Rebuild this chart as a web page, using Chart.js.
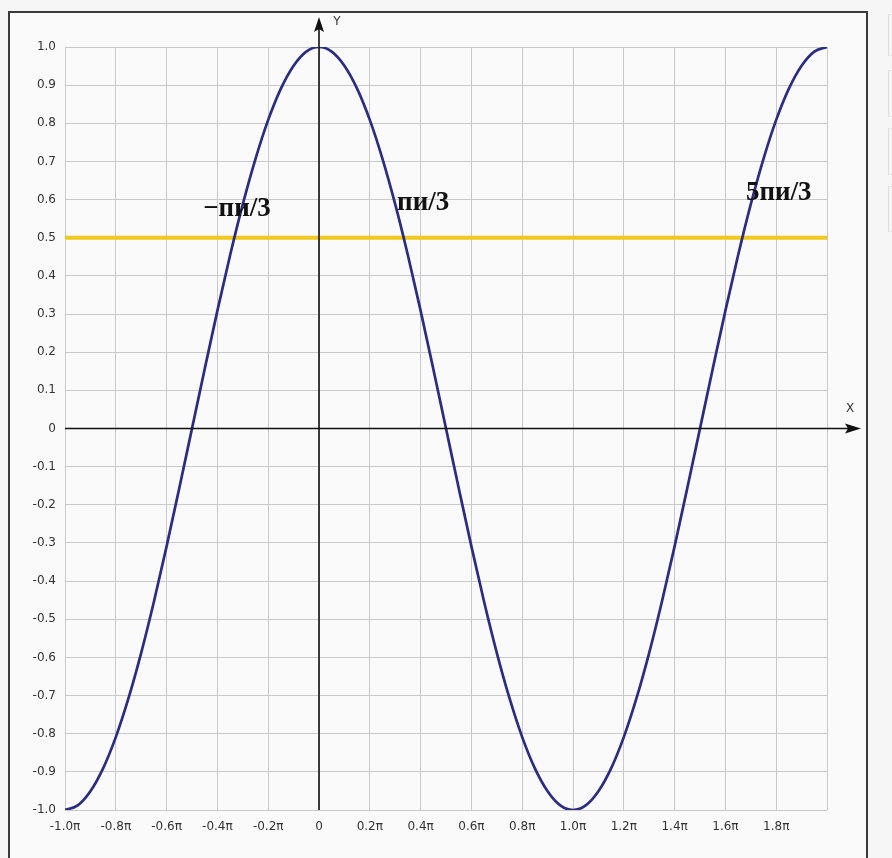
<!DOCTYPE html>
<html>
<head>
<meta charset="utf-8">
<script src="https://cdn.jsdelivr.net/npm/chart.js@4"></script>
<style>
  html, body { margin: 0; padding: 0; background: #f6f6f6; }
  #wrap { position: absolute; left: 0; top: 0; width: 892px; height: 858px; }
  .side { position: absolute; left: 888px; width: 6px; border-left: 1px solid #dcdcdc; border-top: 1px solid #e6e6e6; border-bottom: 1px solid #e6e6e6; }
</style>
</head>
<body>
<div id="wrap"><canvas id="c" width="892" height="858"></canvas></div>
<div class="side" style="top:14px;height:40px"></div>
<div class="side" style="top:70px;height:45px"></div>
<div class="side" style="top:128px;height:45px"></div>
<div class="side" style="top:186px;height:44px"></div>
<script>
// x positions in units of π
const xValues = [
  -1.00,-0.95,-0.90,-0.85,-0.80,-0.75,-0.70,-0.65,-0.60,-0.55,
  -0.50,-0.45,-0.40,-0.35,-0.30,-0.25,-0.20,-0.15,-0.10,-0.05,
   0.00, 0.05, 0.10, 0.15, 0.20, 0.25, 0.30, 0.35, 0.40, 0.45,
   0.50, 0.55, 0.60, 0.65, 0.70, 0.75, 0.80, 0.85, 0.90, 0.95,
   1.00, 1.05, 1.10, 1.15, 1.20, 1.25, 1.30, 1.35, 1.40, 1.45,
   1.50, 1.55, 1.60, 1.65, 1.70, 1.75, 1.80, 1.85, 1.90, 1.95, 2.00
];
const curveValues = [
  -1.000,-0.988,-0.951,-0.891,-0.809,-0.707,-0.588,-0.454,-0.309,-0.156,
   0.000, 0.156, 0.309, 0.454, 0.588, 0.707, 0.809, 0.891, 0.951, 0.988,
   1.000, 0.988, 0.951, 0.891, 0.809, 0.707, 0.588, 0.454, 0.309, 0.156,
   0.000,-0.156,-0.309,-0.454,-0.588,-0.707,-0.809,-0.891,-0.951,-0.988,
  -1.000,-0.988,-0.951,-0.891,-0.809,-0.707,-0.588,-0.454,-0.309,-0.156,
   0.000, 0.156, 0.309, 0.454, 0.588, 0.707, 0.809, 0.891, 0.951, 0.988, 1.000
];
const levelX = [-1.0, 2.0];
const levelY = [0.5, 0.5];

const xTickValues = [-1.0,-0.8,-0.6,-0.4,-0.2,0,0.2,0.4,0.6,0.8,1.0,1.2,1.4,1.6,1.8,2.0];
const xTickLabels = ['-1.0π','-0.8π','-0.6π','-0.4π','-0.2π','0','0.2π','0.4π','0.6π','0.8π','1.0π','1.2π','1.4π','1.6π','1.8π',''];
const yTickValues = [-1.0,-0.9,-0.8,-0.7,-0.6,-0.5,-0.4,-0.3,-0.2,-0.1,0,0.1,0.2,0.3,0.4,0.5,0.6,0.7,0.8,0.9,1.0];
const yTickLabels = ['-1.0','-0.9','-0.8','-0.7','-0.6','-0.5','-0.4','-0.3','-0.2','-0.1','0','0.1','0.2','0.3','0.4','0.5','0.6','0.7','0.8','0.9','1.0'];

const noteTexts = ['−пи/3', 'пи/3', '5пи/3'];
const noteX = [-0.323, 0.41, 1.81];
const noteY = [0.576, 0.592, 0.617];

const axisLabelX = 'X';
const axisLabelY = 'Y';

const framePlugin = {
  id: 'frame',
  beforeDraw(chart) {
    const ctx = chart.ctx;
    ctx.save();
    ctx.fillStyle = '#fafafa';
    ctx.fillRect(9, 12, 858, 850);
    ctx.strokeStyle = '#3a3a3a';
    ctx.lineWidth = 2;
    ctx.strokeRect(9, 12, 858, 860);
    ctx.restore();
  }
};

const axesPlugin = {
  id: 'axesArrows',
  afterDatasetsDraw(chart) {
    const ctx = chart.ctx;
    const xs = chart.scales.x, ys = chart.scales.y;
    const x0 = xs.getPixelForValue(0), y0 = ys.getPixelForValue(0);
    const area = chart.chartArea;
    ctx.save();
    ctx.strokeStyle = '#111';
    ctx.fillStyle = '#111';
    ctx.lineWidth = 1.6;
    // y axis
    ctx.beginPath();
    ctx.moveTo(x0, area.bottom);
    ctx.lineTo(x0, 26);
    ctx.stroke();
    ctx.beginPath();
    ctx.moveTo(x0, 17);
    ctx.lineTo(x0 - 5, 32);
    ctx.lineTo(x0, 29);
    ctx.lineTo(x0 + 5, 32);
    ctx.closePath();
    ctx.fill();
    // x axis
    ctx.beginPath();
    ctx.moveTo(area.left, y0);
    ctx.lineTo(852, y0);
    ctx.stroke();
    ctx.beginPath();
    ctx.moveTo(861, y0);
    ctx.lineTo(845, y0 - 5);
    ctx.lineTo(848, y0);
    ctx.lineTo(845, y0 + 5);
    ctx.closePath();
    ctx.fill();
    // axis names
    ctx.fillStyle = '#333';
    ctx.font = '12px "DejaVu Sans", Verdana, sans-serif';
    ctx.textAlign = 'center';
    ctx.textBaseline = 'middle';
    ctx.fillText(axisLabelY, x0 + 18, 22);
    ctx.fillText(axisLabelX, 850, y0 - 20);
    // notes
    ctx.fillStyle = '#111';
    ctx.font = 'bold 27px "Liberation Serif", "DejaVu Serif", serif';
    for (let i = 0; i < noteTexts.length; i++) {
      ctx.fillText(noteTexts[i], xs.getPixelForValue(noteX[i]), ys.getPixelForValue(noteY[i]));
    }
    ctx.restore();
  }
};

new Chart(document.getElementById('c'), {
  type: 'line',
  data: {
    datasets: [
      {
        label: 'cos x',
        data: xValues.map((x, i) => ({ x: x, y: curveValues[i] })),
        borderColor: '#2b2d80',
        borderWidth: 2.7,
        pointRadius: 0,
        cubicInterpolationMode: 'monotone',
        fill: false,
        order: 0
      },
      {
        label: 'y = 0.5',
        data: levelX.map((x, i) => ({ x: x, y: levelY[i] })),
        borderColor: '#f0c81e',
        borderWidth: 4,
        pointRadius: 0,
        fill: false,
        order: 1
      }
    ]
  },
  options: {
    responsive: false,
    animation: false,
    layout: { padding: { left: 0, right: 65, top: 47, bottom: 0 } },
    plugins: {
      legend: { display: false },
      tooltip: { enabled: false }
    },
    scales: {
      x: {
        type: 'linear',
        min: -1,
        max: 2,
        afterBuildTicks: s => { s.ticks = xTickValues.map(v => ({ value: v })); },
        afterFit: s => { s.height = 48; },
        ticks: {
          autoSkip: false,
          maxRotation: 0,
          padding: 10,
          color: '#333',
          font: { family: '"DejaVu Sans", Verdana, sans-serif', size: 12 },
          callback: (v) => { const i = xTickValues.findIndex(t => Math.abs(t - v) < 1e-6); return i >= 0 ? xTickLabels[i] : ''; }
        },
        grid: { color: '#c9c9c9', lineWidth: 1, drawTicks: false },
        border: { display: false }
      },
      y: {
        type: 'linear',
        min: -1,
        max: 1,
        afterBuildTicks: s => { s.ticks = yTickValues.map(v => ({ value: v })); },
        afterFit: s => { s.width = 65; },
        ticks: {
          autoSkip: false,
          padding: 9,
          color: '#333',
          font: { family: '"DejaVu Sans", Verdana, sans-serif', size: 12 },
          callback: (v) => { const i = yTickValues.findIndex(t => Math.abs(t - v) < 1e-6); return i >= 0 ? yTickLabels[i] : ''; }
        },
        grid: { color: '#c9c9c9', lineWidth: 1, drawTicks: false },
        border: { display: false }
      }
    }
  },
  plugins: [framePlugin, axesPlugin]
});
</script>
</body>
</html>
